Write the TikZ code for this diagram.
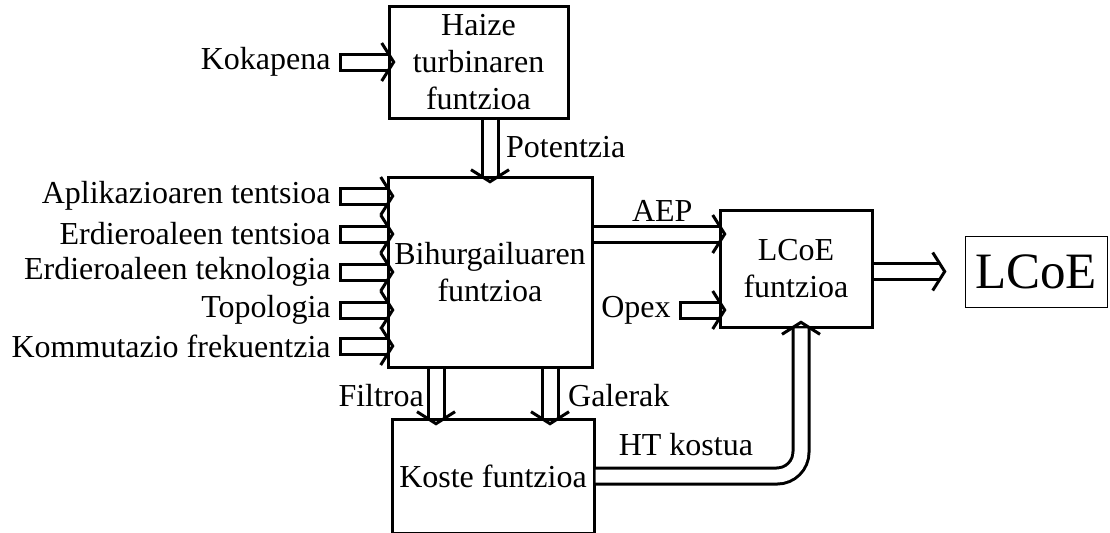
\documentclass[tikz,border=0pt]{standalone}
\usepackage{fontspec}
\setmainfont{Liberation Serif}
\usetikzlibrary{arrows.meta}
% gezi burua eta buztana
\pgfdeclarearrow{
  name = Chev,
  setup code = {
    \pgfarrowssettipend{0.9pt}
    \pgfarrowssetlineend{-3pt}
    \pgfarrowssetbackend{-6.5pt}
  },
  drawing code = {
    \pgfsetdash{}{0pt}
    \pgfsetlinewidth{1.5pt}
    \pgfsetmiterjoin
    \pgfpathmoveto{\pgfpoint{-6pt}{9.5pt}}
    \pgfpathlineto{\pgfpoint{0pt}{0pt}}
    \pgfpathlineto{\pgfpoint{-6pt}{-9.5pt}}
    \pgfusepathqstroke
  }
}
\pgfdeclarearrow{
  name = Cap,
  setup code = {
    \pgfarrowssettipend{0pt}
    \pgfarrowssetlineend{-0.75pt}
    \pgfarrowssetbackend{-1.5pt}
  },
  drawing code = {
    \pgfsetdash{}{0pt}
    \pgfsetlinewidth{1.5pt}
    \pgfsetbuttcap
    \pgfpathmoveto{\pgfpoint{-0.75pt}{4.75pt}}
    \pgfpathlineto{\pgfpoint{-0.75pt}{-4.75pt}}
    \pgfusepathqstroke
  }
}
\tikzset{
  blok/.style={draw, line width=1.5pt, align=center, inner sep=0pt},
  fat/.style={line width=1.5pt, double, double distance=6.5pt, -{Chev}, shorten >=-4pt},
  fatin/.style={fat, {Cap}-{Chev}},
  lbl/.style={inner sep=4pt, anchor=east},
}
\begin{document}
\begin{tikzpicture}[x=0.5pt, y=-0.5pt, font=\fontsize{16}{18.5}\selectfont]
  \useasboundingbox (0,0) rectangle (1110,532);
  \clip (0,0) rectangle (1110,532);
  % blokeak
  \node[blok, minimum width=89.5pt, minimum height=56pt] (haize) at (478.5,62) {Haize\\turbinaren\\funtzioa};
  \node[blok, minimum width=102pt, minimum height=95pt] (bihur) at (490,272) {Bihurgailuaren\\funtzioa};
  \node[blok, minimum width=76pt, minimum height=58.5pt] (lcoef) at (796,268.5) {LCoE\\funtzioa};
  \node[blok, minimum width=101pt, minimum height=57pt] (koste) at (493,476) {Koste funtzioa};
  \node[draw, line width=0.5pt, minimum width=71pt, minimum height=35.5pt, font=\fontsize{25.5}{30}\selectfont] (out) at (1036,271.5) {LCoE};
  % sarrerak
  \node[lbl] (kok) at (339,62) {Kokapena};
  \draw[fatin] (kok.east) -- (haize.west |- kok.east);
  \node[lbl] (apl) at (339,196) {Aplikazioaren tentsioa};
  \node[lbl] (erdt) at (339,234) {Erdieroaleen tentsioa};
  \node[lbl] (erdk) at (339,272) {Erdieroaleen teknologia};
  \node[lbl] (topo) at (339,310) {Topologia};
  \node[lbl] (komm) at (339,346) {Kommutazio frekuentzia};
  \foreach \n in {apl,erdt,erdk,topo,komm}
    \draw[fatin] (\n.east) -- (bihur.west |- \n.east);
  \node[lbl] (opex) at (679,310) {Opex};
  \draw[fatin] (opex.east) -- (lcoef.west |- opex.east);
  % barne geziak
  \draw[fat] (bihur.north |- haize.south) -- (bihur.north)
    node[pos=0.5, right=4pt] {Potentzia};
  \draw[fat] (bihur.east |- 0,234) -- (lcoef.west |- 0,234)
    node[pos=0.55, above=2pt] {AEP};
  \draw[fat, shorten >=9pt] (out.west -| lcoef.east) -- (out.west);
  \draw[fat] ([xshift=-28.5pt]koste.north |- bihur.south) -- ([xshift=-28.5pt]koste.north)
    node[pos=0.55, left=2pt] {Filtroa};
  \draw[fat] ([xshift=28.5pt]koste.north |- bihur.south) -- ([xshift=28.5pt]koste.north)
    node[pos=0.55, right=5pt] {Galerak};
  \draw[fat, rounded corners=12pt] (koste.east) -| ([xshift=2.5pt]lcoef.south)
    node[pos=0.22, above=6pt] {HT kostua};
\end{tikzpicture}
\end{document}
